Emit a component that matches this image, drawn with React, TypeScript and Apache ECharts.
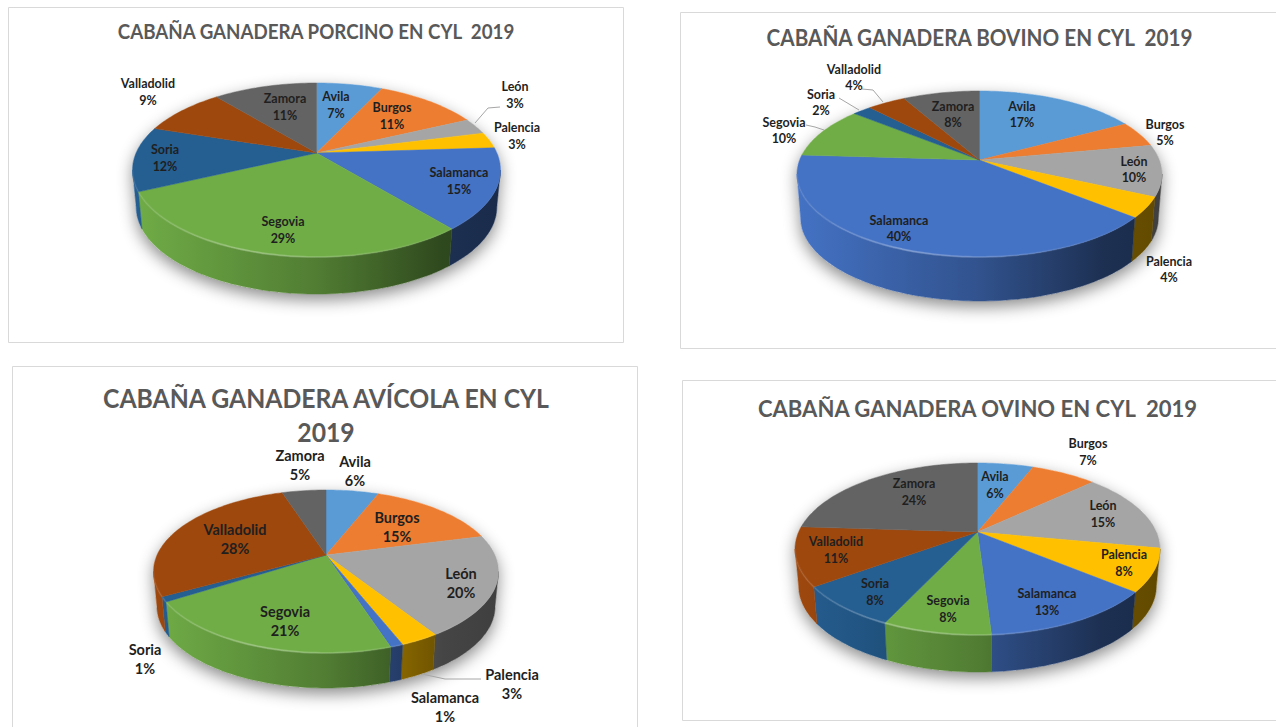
import React, { useEffect, useRef } from "react";
import * as echarts from "echarts";

const provinces = ["Avila", "Burgos", "León", "Palencia", "Salamanca", "Segovia", "Soria", "Valladolid", "Zamora"];
const sliceColors = ["#5B9BD5", "#ED7D31", "#A5A5A5", "#FFC000", "#4472C4", "#70AD47", "#255E91", "#9E480E", "#636363"];

const porcino = [7, 11, 3, 3, 15, 29, 12, 9, 11];
const bovino = [17, 5, 10, 4, 40, 10, 2, 4, 8];
const avicola = [6, 15, 20, 3, 1, 21, 1, 28, 5];
const ovino = [6, 7, 15, 8, 13, 8, 8, 11, 24];

const FONT = "Lato, 'Noto Sans', sans-serif";

// Layout only: card frame, projection of the disc, label anchors and leader lines.
const pies = [
  {
    title: "CABAÑA GANADERA PORCINO EN CYL  2019", values: porcino,
    frame: [8.5, 7.5, 615, 335], titleX: 316, titleY: 31, titleSize: 20.5, titleLine: 24, titleScale: 0.915,
    cx: 316.5, cy: 153, halfW: 184, front: 104, back: 70, depth: 37, labelSize: 12.5, labelLine: 16.5,
    labels: [[336, 105], [392, 116], [515, 95], [517, 136], [459, 181], [283, 230], [165, 158], [148, 92], [285, 107]],
    leaders: [[[500, 107], [488, 108], [475, 123]]],
  },
  {
    title: "CABAÑA GANADERA BOVINO EN CYL  2019", values: bovino,
    frame: [680.5, 12.5, 620, 336], titleX: 979.5, titleY: 38, titleSize: 22.5, titleLine: 26, titleScale: 0.92,
    cx: 979.5, cy: 160, halfW: 182.5, front: 97, back: 69, depth: 44, labelSize: 12.5, labelLine: 16,
    labels: [[1022, 114], [1165, 132], [1134, 169], [1169, 269], [899, 228], [784, 130], [821, 102], [854, 77], [953, 114]],
    leaders: [[[806, 125], [815, 127], [824, 130]], [[839, 98], [859, 110]], [[862, 89], [873, 90], [883, 102]]],
  },
  {
    title: "CABAÑA GANADERA AVÍCOLA EN CYL\n2019", values: avicola,
    frame: [12.5, 366.5, 625, 380], titleX: 326, titleY: 414, titleSize: 27.5, titleLine: 34, titleScale: 0.9,
    cx: 326, cy: 555, halfW: 172.5, front: 98, back: 65, depth: 35, labelSize: 14.5, labelLine: 19,
    labels: [[355, 471], [397, 527], [461, 583], [512, 684], [445, 707], [285, 621], [145, 659], [235, 539], [300, 465]],
    leaders: [[[481, 679], [445, 679], [422, 674]]],
  },
  {
    title: "CABAÑA GANADERA OVINO EN CYL  2019", values: ovino,
    frame: [682.5, 380.5, 620, 340], titleX: 977.5, titleY: 408, titleSize: 22.5, titleLine: 26, titleScale: 0.98,
    cx: 977.5, cy: 532, halfW: 182.5, front: 103, back: 69, depth: 37, labelSize: 12.5, labelLine: 17,
    labels: [[995, 485], [1088, 452], [1103, 514], [1124, 563], [1047, 602], [948, 609], [875, 592], [836, 550], [914, 492]],
    leaders: [] as number[][][],
  },
];

const shade = (hex: string, f: number) => {
  const n = parseInt(hex.slice(1), 16);
  const ch = (v: number) => Math.max(0, Math.min(255, Math.round(v * f)));
  return `rgb(${ch((n >> 16) & 255)},${ch((n >> 8) & 255)},${ch(n & 255)})`;
};

const seriesFor = (pie: (typeof pies)[number]) => {
  const k = (pie.front - pie.back) / (pie.front + pie.back);
  const ry = pie.front * (1 - k);
  const rx = pie.halfW * Math.sqrt(1 - k * k);
  const total = pie.values.reduce((a, b) => a + b, 0);
  const project = (deg: number): [number, number] => {
    const t = (deg * Math.PI) / 180;
    const u = Math.sin(t);
    const v = -Math.cos(t);
    const w = 1 - k * v;
    return [pie.cx + (rx * u) / w, pie.cy + (ry * v) / w];
  };
  const below = (p: [number, number]): [number, number] => [pie.cx + (p[0] - pie.cx) * 0.98, p[1] + pie.depth];
  const arc = (a: number, b: number) => {
    const pts: [number, number][] = [];
    const n = Math.max(2, Math.ceil((b - a) / 1.5));
    for (let i = 0; i <= n; i++) pts.push(project(a + ((b - a) * i) / n));
    return pts;
  };
  const wallFrom = (Math.acos(-k) * 180) / Math.PI;
  const wallTo = 360 - wallFrom;
  const x0 = pie.cx - pie.halfW;
  const x1 = pie.cx + pie.halfW;

  return {
    type: "custom",
    coordinateSystem: "none",
    silent: true,
    clip: false,
    data: pie.values.map((v, i) => ({ name: provinces[i], value: [v] })),
    renderItem: (params: any, api: any) => {
      const i = params.dataIndex;
      const value = api.value(0);
      let start = 0;
      for (let j = 0; j < i; j++) start += pie.values[j];
      const a = (start / total) * 360;
      const b = a + (value / total) * 360;
      const color = sliceColors[i];
      const children: any[] = [];

      if (i === 0) {
        const rim = arc(wallFrom, wallTo).map(below);
        children.push({
          type: "polygon",
          z2: -1,
          shape: { points: [...arc(wallTo, 360 + wallFrom), ...rim] },
          style: { fill: "#ffffff", shadowBlur: 16, shadowColor: "rgba(0,0,0,0.45)", shadowOffsetY: 6 },
        });
      }

      const wa = Math.max(a, wallFrom);
      const wb = Math.min(b, wallTo);
      if (wb > wa) {
        const top = arc(wa, wb);
        const wallFill = new echarts.graphic.LinearGradient(x0, 0, x1, 0, [
          { offset: 0, color: shade(color, 1.0) },
          { offset: 0.5, color: shade(color, 0.72) },
          { offset: 0.84, color: shade(color, 0.42) },
          { offset: 1, color: shade(color, 0.38) },
        ], true);
        children.push({
          type: "polygon",
          shape: { points: [...top, ...top.map(below).reverse()] },
          style: { fill: wallFill, stroke: wallFill, lineWidth: 0.5 },
        });
      }

      children.push({
        type: "polygon",
        z2: 1,
        shape: { points: [[pie.cx, pie.cy], ...arc(a, b)] },
        style: { fill: color, stroke: color, lineWidth: 0.5 },
      });

      if (wb > wa) {
        children.push({
          type: "polyline",
          z2: 2,
          shape: { points: arc(wa, wb) },
          style: {
            fill: "none",
            lineWidth: 2,
            stroke: new echarts.graphic.LinearGradient(x0, 0, x1, 0, [
              { offset: 0, color: "rgba(255,255,255,0.06)" },
              { offset: 0.3, color: "rgba(255,255,255,0.26)" },
              { offset: 0.7, color: "rgba(255,255,255,0.08)" },
              { offset: 1, color: "rgba(255,255,255,0.0)" },
            ], true),
          },
        });
      }

      const [lx, ly] = pie.labels[i];
      children.push({
        type: "text",
        x: lx,
        y: ly,
        z2: 10,
        style: {
          text: `${provinces[i]}\n${value}%`,
          fontFamily: FONT,
          fontWeight: "bold",
          fontSize: pie.labelSize,
          lineHeight: pie.labelLine,
          align: "center",
          verticalAlign: "middle",
          fill: "#1f1f1f",
        },
      });

      if (i === 0) {
        pie.leaders.forEach((pts) =>
          children.push({
            type: "polyline",
            z2: 9,
            shape: { points: pts },
            style: { fill: "none", stroke: "#a6a6a6", lineWidth: 1 },
          })
        );
      }
      return { type: "group", children };
    },
  };
};

export default function App() {
  const ref = useRef<HTMLDivElement>(null);
  useEffect(() => {
    const chart = echarts.init(ref.current!, undefined, { renderer: "svg" });
    chart.setOption({
      animation: false,
      backgroundColor: "#ffffff",
      graphic: [
        ...pies.map((p) => ({
          type: "rect",
          silent: true,
          z: -1,
          shape: { x: p.frame[0], y: p.frame[1], width: p.frame[2], height: p.frame[3] },
          style: { fill: "#ffffff", stroke: "#d9d9d9", lineWidth: 1 },
        })),
        ...pies.map((p) => ({
          type: "text",
          silent: true,
          x: p.titleX,
          y: p.titleY + (p.title.includes("\n") ? 0 : 0),
          scaleX: p.titleScale,
          style: {
            text: p.title,
            fontFamily: FONT,
            fontWeight: "bold",
            fontSize: p.titleSize,
            lineHeight: p.titleLine,
            align: "center",
            verticalAlign: "middle",
            fill: "#595959",
          },
        })),
      ],
      series: pies.map(seriesFor),
    });
    return () => chart.dispose();
  }, []);
  return <div ref={ref} style={{ position: "fixed", left: 0, top: 0, width: 1276, height: 727 }} />;
}
